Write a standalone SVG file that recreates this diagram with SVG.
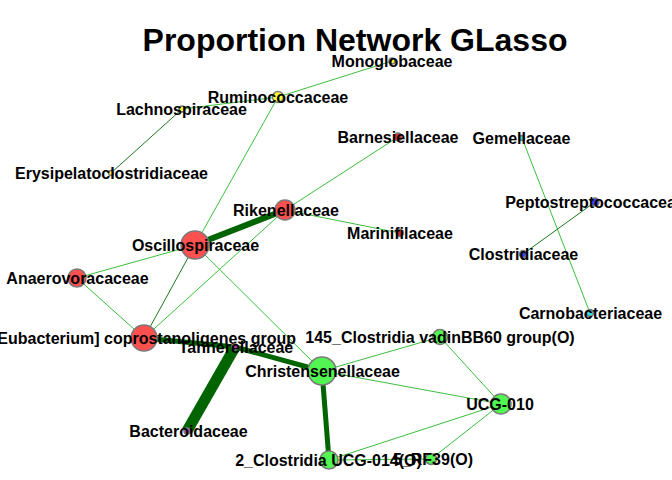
<svg xmlns="http://www.w3.org/2000/svg" width="672" height="480" viewBox="0 0 672 480">
<style>
.t{font-family:"Liberation Sans",Arial,sans-serif;font-weight:bold;font-size:16px;fill:#000;text-anchor:middle}
.title{font-family:"Liberation Sans",Arial,sans-serif;font-weight:bold;font-size:32px;fill:#000;text-anchor:middle}
.l{stroke:#3cbe3c;stroke-width:1;fill:none}
.d{stroke:#1e781e;stroke-width:1;fill:none}
.k{stroke:#006400;fill:none}
circle{stroke:#7a7a7a;stroke-width:1.5}
.red{fill:#ff5050}.grn{fill:#52f552}.yel{fill:#ffff33}.pur{fill:#c23cc2}.blu{fill:#4444ff}.cya{fill:#33dddd}.dred{fill:#dd3030}
</style>
<rect width="672" height="480" fill="#fff"/>
<text class="title" x="355" y="51">Proportion Network GLasso</text>
<g id="edges">
<line class="l" x1="392" y1="61" x2="278" y2="97"/>
<line class="l" x1="278" y1="97" x2="182" y2="109"/>
<line class="l" x1="278" y1="97" x2="195" y2="245"/>
<line class="l" x1="398" y1="137" x2="285" y2="210"/>
<line class="l" x1="285" y1="210" x2="400" y2="233"/>
<line class="l" x1="285" y1="210" x2="144" y2="338"/>
<line class="l" x1="195" y1="245" x2="77" y2="278"/>
<line class="l" x1="195" y1="245" x2="322" y2="371"/>
<line class="l" x1="77" y1="278" x2="144" y2="338"/>
<line class="l" x1="522" y1="138" x2="590" y2="313"/>
<line class="l" x1="322" y1="371" x2="440" y2="337"/>
<line class="l" x1="322" y1="371" x2="501" y2="404"/>
<line class="l" x1="440" y1="337" x2="501" y2="404"/>
<line class="l" x1="501" y1="404" x2="329" y2="460"/>
<line class="l" x1="501" y1="404" x2="431" y2="459"/>
<line class="l" x1="329" y1="460" x2="431" y2="459"/>
<line class="d" x1="182" y1="109" x2="111" y2="173"/>
<line class="d" x1="595" y1="202" x2="523" y2="254"/>
<line class="d" x1="195" y1="245" x2="144" y2="338"/>
<line class="k" stroke-width="6" x1="285" y1="210" x2="195" y2="245"/>
<line class="k" stroke-width="5" x1="144" y1="338" x2="235" y2="347"/>
<line class="k" stroke-width="5" x1="235" y1="347" x2="322" y2="371"/>
<line class="k" stroke-width="11" x1="235" y1="347" x2="187" y2="431"/>
<line class="k" stroke-width="5" x1="322" y1="371" x2="329" y2="460"/>
</g>
<g id="n-monoglobaceae"><circle class="yel" cx="392" cy="61" r="3"/><text class="t" x="392" y="67">Monoglobaceae</text></g>
<g id="n-ruminococcaceae"><circle class="yel" cx="278" cy="97" r="5.5"/><text class="t" x="278" y="103">Ruminococcaceae</text></g>
<g id="n-lachnospiraceae"><circle class="yel" cx="182" cy="109" r="3"/><text class="t" x="181.5" y="115">Lachnospiraceae</text></g>
<g id="n-erysipelatoclostridiaceae"><circle class="yel" cx="111" cy="173" r="2.5"/><text class="t" x="111.5" y="179">Erysipelatoclostridiaceae</text></g>
<g id="n-barnesiellaceae"><circle class="dred" cx="398" cy="137" r="4"/><text class="t" x="398" y="143">Barnesiellaceae</text></g>
<g id="n-gemellaceae"><circle class="cya" cx="522" cy="138" r="2.5"/><text class="t" x="521.5" y="144">Gemellaceae</text></g>
<g id="n-rikenellaceae"><circle class="red" cx="285" cy="210" r="10"/><text class="t" x="286" y="216">Rikenellaceae</text></g>
<g id="n-oscillospiraceae"><circle class="red" cx="195" cy="245" r="14"/><text class="t" x="195.5" y="251">Oscillospiraceae</text></g>
<g id="n-marinifilaceae"><circle class="dred" cx="400" cy="233" r="3.5"/><text class="t" x="400" y="239">Marinifilaceae</text></g>
<g id="n-peptostreptococcaceae"><circle class="blu" cx="595" cy="202" r="4"/><text class="t" x="595" y="208">Peptostreptococcaceae</text></g>
<g id="n-clostridiaceae"><circle class="blu" cx="523" cy="254" r="3.5"/><text class="t" x="523.5" y="260">Clostridiaceae</text></g>
<g id="n-carnobacteriaceae"><circle class="cya" cx="590" cy="313" r="3.5"/><text class="t" x="590.5" y="319">Carnobacteriaceae</text></g>
<g id="n-anaerovoracaceae"><circle class="red" cx="77" cy="278" r="9"/><text class="t" x="77.5" y="284">Anaerovoracaceae</text></g>
<g id="n-eubacterium"><circle class="red" cx="144" cy="338" r="13"/><text class="t" x="144" y="344">[Eubacterium] coprostanoligenes group</text></g>
<g id="n-tannerellaceae"><circle class="pur" cx="235" cy="347" r="3"/><text class="t" x="236" y="353">Tannerellaceae</text></g>
<g id="n-christensenellaceae"><circle class="grn" cx="322" cy="371" r="14"/><text class="t" x="322.5" y="377">Christensenellaceae</text></g>
<g id="n-bacteroidaceae"><circle class="pur" cx="187" cy="431" r="3"/><text class="t" x="188.5" y="437">Bacteroidaceae</text></g>
<g id="n-145-clostridia"><circle class="grn" cx="440" cy="337" r="7.5"/><text class="t" x="440" y="343">145_Clostridia vadinBB60 group(O)</text></g>
<g id="n-ucg-010"><circle class="grn" cx="501" cy="404" r="10"/><text class="t" x="500" y="410">UCG-010</text></g>
<g id="n-2-clostridia"><circle class="grn" cx="329" cy="460" r="9"/><text class="t" x="328.5" y="466">2_Clostridia UCG-014(O)</text></g>
<g id="n-5-rf39"><circle class="grn" cx="431" cy="459" r="5.5"/><text class="t" x="433" y="465">5_RF39(O)</text></g>
</svg>
